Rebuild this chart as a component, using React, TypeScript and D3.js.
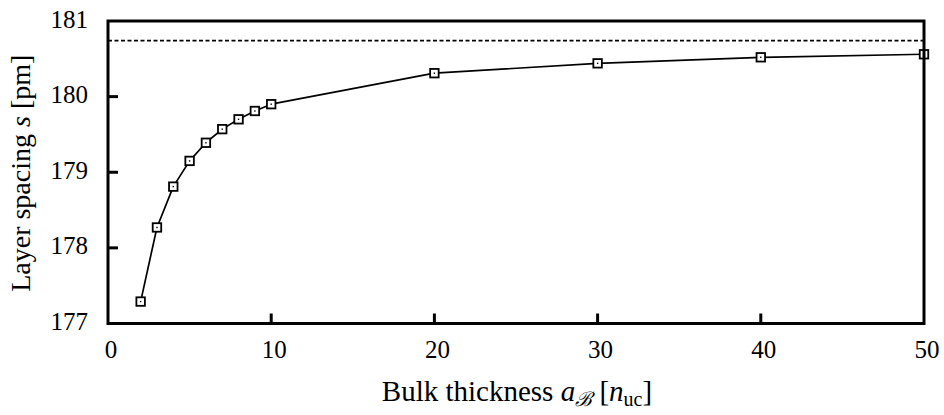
import React from "react";
import * as d3 from "d3";

const thickness = [2, 3, 4, 5, 6, 7, 8, 9, 10, 20, 30, 40, 50];
const spacing = [177.29, 178.27, 178.81, 179.15, 179.39, 179.57, 179.70, 179.81, 179.90, 180.31, 180.44, 180.52, 180.56];
const bulkLimit = 180.74;
const xTicks = [0, 10, 20, 30, 40, 50];
const yTicks = [177, 178, 179, 180, 181];

const W = 944, H = 415;
const M = { left: 108, right: 924, top: 21, bottom: 323.5 };
const FONT = "'Liberation Serif', 'Times New Roman', Times, serif";

export default function App() {
  const x = d3.scaleLinear().domain([0, 50]).range([M.left, M.right]);
  const y = d3.scaleLinear().domain([177, 181]).range([M.bottom, M.top]);
  const line = d3.line<number>().x((_, i) => x(thickness[i])).y((d) => y(d));
  const pts = spacing.map((v, i) => [x(thickness[i]), y(v)]);
  const s = 8.5;
  return (
    <svg width={W} height={H} style={{ position: "absolute", left: 0, top: 0, background: "#fff" }}>
      <g fill="#000" style={{ fontFamily: FONT }}>
        <line x1={x(0)} x2={x(50)} y1={y(bulkLimit)} y2={y(bulkLimit)} stroke="#000" strokeWidth={1.6} strokeDasharray="4,2.5" />
        <path d={line(spacing) || ""} fill="none" stroke="#000" strokeWidth={1.7} strokeLinejoin="round" />
        {pts.map(([px, py], i) => (
          <g key={i}>
            <rect x={px - s / 2} y={py - s / 2} width={s} height={s} fill="#fff" stroke="#000" strokeWidth={1.8} />
            <rect x={px - 0.7} y={py - 0.7} width={1.4} height={1.4} fill="#000" />
          </g>
        ))}
        <rect x={M.left} y={M.top} width={M.right - M.left} height={M.bottom - M.top} fill="none" stroke="#000" strokeWidth={3} />
        {xTicks.filter((t) => t > 0 && t < 50).map((t) => (
          <line key={"xt" + t} x1={x(t)} x2={x(t)} y1={M.bottom} y2={M.bottom - 10} stroke="#000" strokeWidth={3} />
        ))}
        {yTicks.filter((t) => t > 177 && t < 181).map((t) => (
          <line key={"yt" + t} x1={M.left} x2={M.left + 10} y1={y(t)} y2={y(t)} stroke="#000" strokeWidth={3} />
        ))}
        {xTicks.map((t) => (
          <text key={"xl" + t} x={x(t) + 3} y={358} textAnchor="middle" fontSize={25} style={{ fontFamily: FONT }}>{t}</text>
        ))}
        {yTicks.map((t) => (
          <text key={"yl" + t} x={88} y={y(t) + 6.5} textAnchor="end" fontSize={25} style={{ fontFamily: FONT }}>{t}</text>
        ))}
        <text x={(M.left + M.right) / 2 + 1} y={401} textAnchor="middle" fontSize={29} style={{ fontFamily: FONT }}>
          Bulk thickness <tspan fontStyle="italic">a</tspan>
          <tspan fontStyle="italic" fontSize={20} dy={5}>ℬ</tspan>
          <tspan dy={-5}> [</tspan>
          <tspan fontStyle="italic">n</tspan>
          <tspan fontSize={20} dy={5}>uc</tspan>
          <tspan dy={-5}>]</tspan>
        </text>
        <text transform={`translate(30,${(M.top + M.bottom) / 2 + 1}) rotate(-90)`} textAnchor="middle" fontSize={28} style={{ fontFamily: FONT }}>
          Layer spacing <tspan fontStyle="italic">s</tspan> [pm]
        </text>
      </g>
    </svg>
  );
}
